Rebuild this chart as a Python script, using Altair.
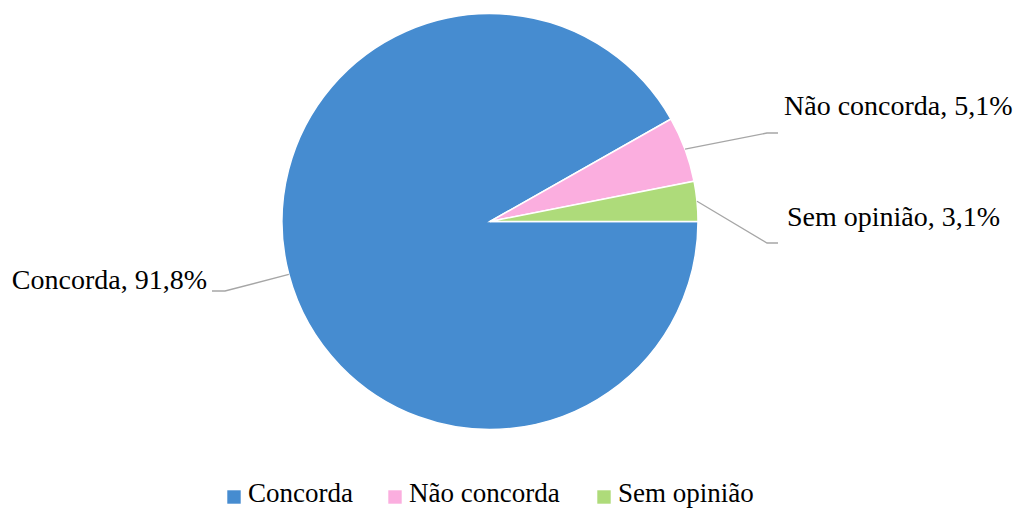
import math
import altair as alt
import pandas as pd

# ---- data ----
categories = ["Concorda", "Não concorda", "Sem opinião"]
values = [91.8, 5.1, 3.1]
label_texts = ["Concorda, 91,8%", "Não concorda, 5,1%", "Sem opinião, 3,1%"]
colors = ["#468CD0", "#FBAEDF", "#AEDB7A"]

# ---- layout (pixels inside the plot area) ----
W, H = 1005, 501
CX, CY, R = 482, 213.5, 208
START = math.pi / 2  # first slice starts at 3 o'clock
FONT = "Liberation Serif"
FS = 28

# label anchor (text position), elbow point, end of leader
label_layout = {
    "Concorda": dict(tx=199, ty=273, align="right", ex=217, ey=283, lx=204),
    "Não concorda": dict(tx=776, ty=99, align="left", ex=759, ey=125, lx=770),
    "Sem opinião": dict(tx=779, ty=210, align="left", ex=759, ey=235, lx=770),
}
# legend layout: square centre x per entry, text offset, row y
legend_sq_x = [226, 387, 596]
LEG_TXT_DX = 14
LEG_Y = 489

df = pd.DataFrame({"cat": categories, "val": values, "order": range(len(categories))})

total = sum(values)
line_rows, text_rows = [], []
cum = 0.0
for c, v, t in zip(categories, values, label_texts):
    mid = START + 2 * math.pi * (cum + v / 2) / total
    cum += v
    sx = CX + R * math.sin(mid)
    sy = CY - R * math.cos(mid)
    L = label_layout[c]
    line_rows += [
        dict(cat=c, i=0, x=sx, y=sy),
        dict(cat=c, i=1, x=L["ex"], y=L["ey"]),
        dict(cat=c, i=2, x=L["lx"], y=L["ey"]),
    ]
    text_rows.append(dict(cat=c, text=t, x=L["tx"], y=L["ty"], align=L["align"]))

lines_df = pd.DataFrame(line_rows)
text_df = pd.DataFrame(text_rows)
legend_df = pd.DataFrame({"cat": categories, "sx": legend_sq_x,
                          "tx": [x + LEG_TXT_DX for x in legend_sq_x], "y": [LEG_Y] * 3})

color_scale = alt.Scale(domain=categories, range=colors)

pie = alt.Chart(df).mark_arc(outerRadius=R, stroke="white", strokeWidth=1.5).encode(
    theta=alt.Theta("val:Q", stack=True, scale=alt.Scale(range=[START, START + 2 * math.pi])),
    order=alt.Order("order:Q"),
    color=alt.Color("cat:N", scale=color_scale, sort=categories, legend=None),
    x=alt.value(CX),
    y=alt.value(CY),
)

leaders = alt.Chart(lines_df).mark_line(color="#A6A6A6", strokeWidth=1.3).encode(
    x=alt.X("x:Q", scale=None),
    y=alt.Y("y:Q", scale=None),
    detail="cat:N",
    order="i:Q",
)

left_text = alt.Chart(text_df[text_df["align"] == "right"]).mark_text(
    align="right", baseline="middle", font=FONT, fontSize=FS, color="#000000"
).encode(x=alt.X("x:Q", scale=None), y=alt.Y("y:Q", scale=None), text="text:N")

right_text = alt.Chart(text_df[text_df["align"] == "left"]).mark_text(
    align="left", baseline="middle", font=FONT, fontSize=FS, color="#000000"
).encode(x=alt.X("x:Q", scale=None), y=alt.Y("y:Q", scale=None), text="text:N")

leg_sq = alt.Chart(legend_df).mark_square(size=180, opacity=1, strokeWidth=0).encode(
    x=alt.X("sx:Q", scale=None),
    y=alt.Y("y:Q", scale=None),
    color=alt.Color("cat:N", scale=color_scale, legend=None),
)
leg_txt = alt.Chart(legend_df).mark_text(
    align="left", baseline="middle", font=FONT, fontSize=27, color="#000000", dy=-3
).encode(x=alt.X("tx:Q", scale=None), y=alt.Y("y:Q", scale=None), text="cat:N")

chart = (
    alt.layer(pie, leaders, left_text, right_text, leg_sq, leg_txt)
    .properties(width=W, height=H, autosize="none", padding=0, background="white")
    .configure_view(stroke=None)
)

chart.save("out.html", embed_options={"renderer": "svg", "actions": False})
